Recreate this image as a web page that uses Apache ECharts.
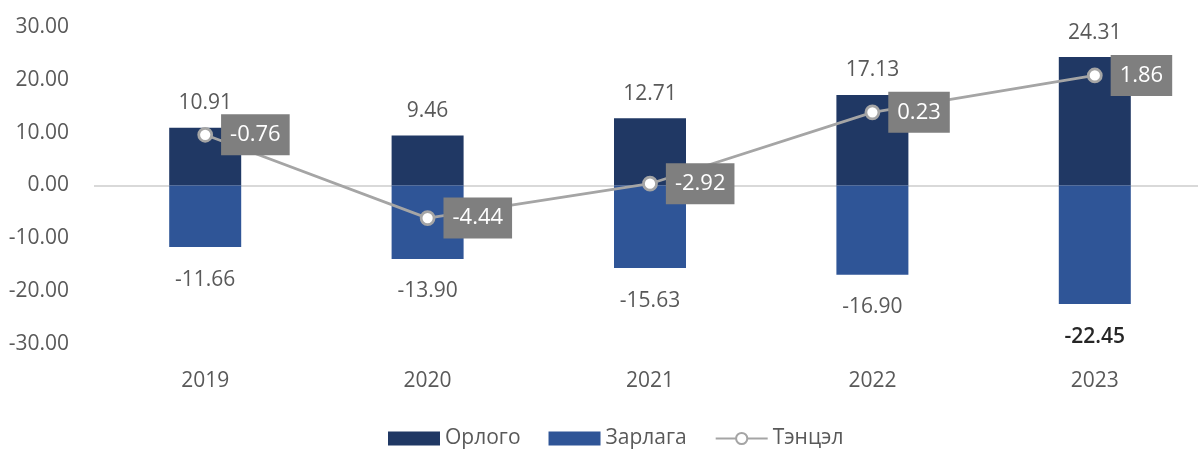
<!DOCTYPE html>
<html>
<head>
<meta charset="utf-8">
<script src="https://cdn.jsdelivr.net/npm/echarts@6/dist/echarts.min.js"></script>
<style>
html,body{margin:0;padding:0;background:#fff;overflow:hidden;width:1198px;height:449px;}
#chart{width:1206px;height:449px;}
</style>
</head>
<body>
<div id="chart"></div>
<script>
const categories = ['2019', '2020', '2021', '2022', '2023'];
const income = [10.91, 9.46, 12.71, 17.13, 24.31];
const expense = [-11.66, -13.90, -15.63, -16.90, -22.45];
const balance = [-0.76, -4.44, -2.92, 0.23, 1.86];
const yTicks = [-30, -20, -10, 0, 10, 20, 30];

const FONT = '"Open Sans", "Noto Sans", sans-serif';
const TXT = '#595959';

const chart = echarts.init(document.getElementById('chart'), null, {renderer: 'canvas'});

const expenseData = expense.map((v, i) => {
  if (i === expense.length - 1) {
    return {value: v, label: {color: '#262626', fontWeight: 600}};
  }
  return v;
});

const option = {
  animation: false,
  backgroundColor: '#fff',
  textStyle: {fontFamily: FONT},
  grid: {left: 94, top: 27, bottom: 105, right: 0, containLabel: false},
  legend: {
    left: 383,
    bottom: -5,
    itemWidth: 52,
    itemHeight: 14,
    itemGap: 28,
    textStyle: {fontFamily: FONT, fontSize: 21, color: TXT},
    data: [
      {name: 'Орлого', icon: 'rect'},
      {name: 'Зарлага', icon: 'rect'},
      {name: 'Тэнцэл'}
    ]
  },
  xAxis: {
    type: 'category',
    data: categories,
    axisLine: {show: false, onZero: false},
    axisTick: {show: false},
    axisLabel: {fontFamily: FONT, fontSize: 21, color: TXT, margin: 27}
  },
  yAxis: [
    {
      type: 'value',
      min: yTicks[0],
      max: yTicks[yTicks.length - 1],
      interval: 10,
      axisLine: {show: false},
      axisTick: {show: false},
      axisLabel: {
        fontFamily: FONT, fontSize: 21, color: TXT, margin: 25,
        formatter: v => v.toFixed(2)
      },
      splitLine: {
        show: true,
        lineStyle: {
          color: yTicks.map(t => t === 0 ? '#d9d9d9' : 'rgba(0,0,0,0)'),
          width: 2
        }
      }
    },
    {
      type: 'value',
      min: -10,
      max: 4,
      show: false,
      splitLine: {show: false}
    }
  ],
  series: [
    {
      name: 'Орлого',
      type: 'bar',
      stack: 'total',
      barWidth: 72,
      data: income,
      itemStyle: {color: '#203864'},
      label: {
        show: true, position: 'top', distance: 14,
        fontFamily: FONT, fontSize: 21, color: TXT,
        formatter: p => p.value.toFixed(2)
      },
      z: 2
    },
    {
      name: 'Зарлага',
      type: 'bar',
      stack: 'total',
      barWidth: 72,
      data: expenseData,
      itemStyle: {color: '#2F5597'},
      label: {
        show: true, position: 'bottom', distance: 22,
        fontFamily: FONT, fontSize: 21, color: TXT,
        formatter: p => p.value.toFixed(2)
      },
      z: 2
    },
    {
      name: 'Тэнцэл',
      type: 'line',
      yAxisIndex: 1,
      data: balance,
      symbol: 'circle',
      symbolSize: 13,
      lineStyle: {color: '#A5A5A5', width: 2.75},
      itemStyle: {color: '#ffffff', borderColor: '#A5A5A5', borderWidth: 2.75},
      label: {
        show: true, position: 'right', distance: 8,
        fontFamily: FONT, fontSize: 22, color: '#ffffff',
        backgroundColor: '#7F7F7F',
        padding: [10, 9, 9, 9],
        formatter: p => p.value.toFixed(2)
      },
      z: 5
    }
  ]
};

chart.setOption(option);
</script>
</body>
</html>
